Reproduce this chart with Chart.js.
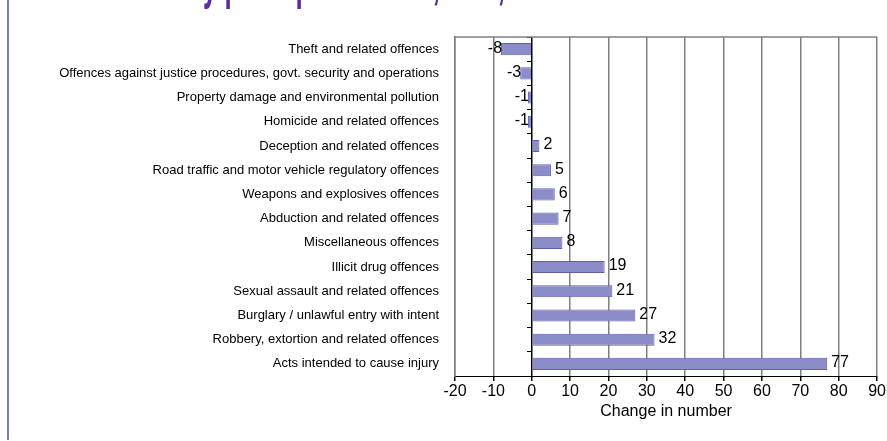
<!DOCTYPE html>
<html>
<head>
<meta charset="utf-8">
<script src="https://cdn.jsdelivr.net/npm/chart.js@4"></script>
<style>
  html, body { margin: 0; padding: 0; background: #fff; }
  #wrap { position: relative; width: 887px; height: 441px; overflow: hidden; }
  #edge { position: absolute; left: 7px; top: 0; width: 2px; height: 440px; background: #7c7cc2; }
</style>
</head>
<body>
<div id="wrap">
  <canvas id="grafico" width="887" height="441"></canvas>
  <div id="edge"></div>
</div>
<script>
(()=>{
const delitos = [
    'Theft and related offences',
    'Offences against justice procedures, govt. security and operations',
    'Property damage and environmental pollution',
    'Homicide and related offences',
    'Deception and related offences',
    'Road traffic and motor vehicle regulatory offences',
    'Weapons and explosives offences',
    'Abduction and related offences',
    'Miscellaneous offences',
    'Illicit drug offences',
    'Sexual assault and related offences',
    'Burglary / unlawful entry with intent',
    'Robbery, extortion and related offences',
    'Acts intended to cause injury'
];
const cambio = [-8, -3, -1, -1, 2, 5, 6, 7, 8, 19, 21, 27, 32, 77];
const ejeX = [-20, 90];
const titulo = 'Offenders by principal offence, ACT, 2008\u201309 to 2009\u201310';

const fuente = '"Liberation Sans", Arial, sans-serif';

// title sits above the picture, only its descenders show
const tituloPlugin = {
    id: 'titulo',
    beforeDraw(chart) {
        const ctx = chart.ctx;
        ctx.save();
        ctx.fillStyle = '#5b2e9c';
        ctx.font = 'bold 26px ' + fuente;
        ctx.textAlign = 'left';
        ctx.textBaseline = 'alphabetic';
        ctx.scale(1, 2.1);
        ctx.fillText(titulo, 57, -1.5);
        ctx.restore();
    }
};

// gray line on top of the plot
const marcoPlugin = {
    id: 'marco',
    beforeDatasetsDraw(chart) {
        const {ctx, chartArea: a} = chart;
        ctx.save();
        ctx.strokeStyle = '#808080';
        ctx.lineWidth = 1.5;
        ctx.beginPath();
        ctx.moveTo(a.left, a.top);
        ctx.lineTo(a.right, a.top);
        ctx.stroke();
        ctx.restore();
    }
};

// value next to each bar end
const valoresPlugin = {
    id: 'valores',
    afterDatasetsDraw(chart) {
        const ctx = chart.ctx;
        const meta = chart.getDatasetMeta(0);
        ctx.save();
        ctx.font = '16px ' + fuente;
        ctx.fillStyle = '#000';
        ctx.textBaseline = 'middle';
        meta.data.forEach((bar, i) => {
            const v = cambio[i];
            if (v < 0) {
                ctx.textAlign = 'right';
                ctx.fillText(String(v), bar.x + 1, bar.y - 1);
            } else {
                ctx.textAlign = 'left';
                ctx.fillText(String(v), bar.x + 4, bar.y - 1);
            }
        });
        ctx.restore();
    }
};

new Chart(document.getElementById('grafico'), {
    type: 'bar',
    data: {
        labels: delitos,
        datasets: [{
            label: 'Change in number',
            data: cambio,
            backgroundColor: '#8b8cc8',
            borderColor: '#5d5fac',
            borderWidth: 1,
            barPercentage: 1.0,
            categoryPercentage: 0.5
        }]
    },
    options: {
        indexAxis: 'y',
        responsive: false,
        animation: false,
        layout: { padding: { top: 37, right: 7, left: 0, bottom: 20 } },
        plugins: {
            legend: { display: false },
            tooltip: { enabled: false }
        },
        scales: {
            x: {
                min: ejeX[0],
                max: ejeX[1],
                ticks: {
                    stepSize: 10,
                    color: '#000',
                    font: { size: 16, family: fuente },
                    padding: 1
                },
                grid: {
                    color: c => (c.tick && c.tick.value === 0) ? '#000' : '#808080',
                    lineWidth: 1.5,
                    tickLength: 5,
                    tickColor: '#000'
                },
                border: { display: true, color: '#000', width: 1 },
                title: {
                    display: true,
                    text: 'Change in number',
                    color: '#000',
                    font: { size: 16, family: fuente },
                    padding: { top: 2, bottom: 0 }
                },
                afterFit: s => { s.height = 45; }
            },
            y: {
                ticks: {
                    color: '#000',
                    font: { size: 13, family: fuente },
                    padding: 16,
                    autoSkip: false
                },
                grid: { display: false, drawTicks: false },
                border: { display: true, color: '#808080', width: 1.5 },
                afterFit: s => { s.width = 455; }
            },
            y0: {
                type: 'category',
                position: { x: 0 },
                offset: true,
                ticks: { display: false },
                grid: { drawOnChartArea: false, offset: true, tickLength: 4, color: '#000' },
                border: { display: true, color: '#000', width: 1 }
            }
        }
    },
    plugins: [tituloPlugin, marcoPlugin, valoresPlugin]
});
})();
</script>
</body>
</html>
